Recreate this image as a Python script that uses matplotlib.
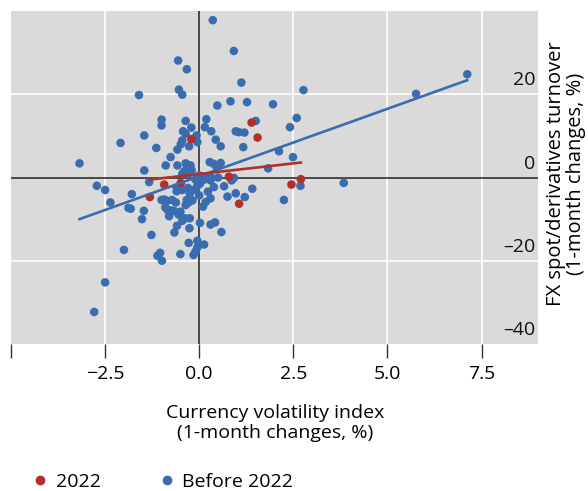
import numpy as np
import matplotlib
matplotlib.use("Agg")
import matplotlib.pyplot as plt
from matplotlib.lines import Line2D

plt.rcParams['font.family'] = ['Open Sans', 'DejaVu Sans']

# 1-month changes (%): currency volatility index (x) vs FX turnover (y)
before_x = [0.36, 0.92, -0.56, -0.33, 1.12, -0.54, -0.45, -1.6, 0.83, 1.27, 0.48, 1.96,
            2.77, 5.76, 7.12, 2.59, 1.5, 2.41, -1.0, -1.0, -0.36, -0.21, 0.19, 0.15,
            -0.43, -0.36, 0.32, 0.97, 1.05, 1.2, -1.46, -0.07, -2.09, -0.45, -0.49, -0.05,
            -0.27, 0.44, 0.57, 1.17, -1.14, -0.58, 2.12, -3.18, -0.76, 2.49, -0.89, -0.58,
            -0.36, -0.23, -0.31, 0.28, 0.38, 0.57, 0.46, 1.83, -1.46, -0.2, -0.4,
            -0.45, -0.3, 0.0, 0.15, 0.3, 0.5, 0.86, 0.92, -0.1, 0.02, 0.39, 0.66, 0.86,
            1.41, 0.23, 0.75, 0.97, 1.21, 2.25, 0.0, 0.3, 0.17, 0.1, 2.69, 3.84, 0.11, 0.3,
            -1.33, -2.72, -2.5, -2.36, -1.79, -1.88, -1.82, -1.47, -1.52, -1.27, -2.0,
            -0.93, -0.84, -0.6, -0.6, -0.45, -0.3, -0.2, -0.25, -1.0, -0.85, -0.72, -0.9,
            -0.75, -0.5, -0.55, -0.38, -0.45, -0.25, -0.8, -0.59, -0.66, -0.26, -0.33,
            -0.28, -0.36, -0.1, -0.05, -0.62, -0.67, -0.54, -0.18,
            0.02, 0.3, 0.42, 0.59, -0.28, -0.05, 0.13, -0.05, -0.1, -0.15, -1.04, -1.11,
            -0.99, -0.5, -2.5, -2.79]
before_y = [37.8, 30.4, 28.1, 26.0, 22.8, 21.1, 19.9, 19.8, 18.3, 18.1, 17.3, 17.6,
            21.0, 20.1, 24.8, 14.3, 13.6, 12.1, 13.9, 12.5, 13.6, 12.0, 14.0, 12.1,
            11.1, 10.5, 11.1, 11.1, 10.9, 10.8, 10.1, 10.1, 8.3, 8.9, 8.0, 8.5,
            7.5, 9.1, 7.5, 7.3, 7.1, 6.7, 6.3, 3.4, 4.9, 4.9, 2.9, 2.9,
            3.4, 2.9, 2.1, 3.7, 3.3, 3.5, 2.5, 2.2, 1.7, 1.7, 1.5,
            0.9, 0.8, 0.5, 0.3, 0.1, 0.0, -0.2, -0.1, -0.5, -1.5, -2.3, -2.1, -0.7,
            -2.7, -3.4, -4.6, -3.8, -4.7, -5.4, -4.3, -5.0, -5.9, -7.0, -2.0, -1.3, -0.6, -0.7,
            -1.1, -2.0, -3.0, -6.0, -4.0, -7.3, -7.5, -8.0, -10.0, -13.8, -17.4,
            -5.3, -7.8, -2.4, -3.3, -3.0, -2.5, -3.0, -3.8, -5.4, -5.6, -5.4, -7.2,
            -7.9, -8.2, -8.9, -9.8, -10.4, -9.8, -9.3, -11.6, -13.2, -12.2, -5.4,
            -6.0, -6.6, -3.0, -2.0, -6.0, -8.0, -8.8, -5.5,
            -10.9, -11.3, -10.8, -13.1, -15.7, -15.2, -16.1, -16.8, -17.8, -18.6, -18.1, -18.8,
            -20.0, -18.4, -25.2, -32.3]

y2022_x = [-0.21, 1.39, 1.55, 0.79, -0.49, -0.93, -1.31, 1.06, 2.45, 2.7]
y2022_y = [9.2, 13.2, 9.6, 0.2, -1.3, -1.7, -4.7, -6.3, -1.7, -0.4]

# fitted trend lines: intercept, slope
before_fit = (0.3, 3.24)
fit_2022 = (0.84, 1.02)

x_ticks = [-5.0, -2.5, 0.0, 2.5, 5.0, 7.5]
x_labels = ['', '−2.5', '0.0', '2.5', '5.0', '7.5']
y_ticks = [-40, -20, 0, 20]
y_labels = ['–40', '–20', '0', '20']

blue = '#3a6cb0'
red = '#b22f2c'
fs = 14

fig = plt.figure(figsize=(5.88, 4.91), dpi=100)
ax = fig.add_axes([11 / 588, 1 - 344 / 491, 527 / 588, 333 / 491])
ax.set_facecolor('#dadada')
ax.set_xlim(-5, 9)
ax.set_ylim(-40, 40)

for gx in [-2.5, 2.5, 5.0, 7.5]:
    ax.axvline(gx, color='white', lw=1.2, zorder=1)
for gy in [-20, 20]:
    ax.axhline(gy, color='white', lw=1.2, zorder=1)
ax.axvline(0, color='#222222', lw=1.1, zorder=2)
ax.axhline(0, color='#222222', lw=1.1, zorder=2)

ax.scatter(before_x, before_y, s=38, color=blue, edgecolors='none', zorder=3)
ax.scatter(y2022_x, y2022_y, s=38, color=red, edgecolors='none', zorder=4)

for xs, fit, c in [(before_x, before_fit, blue), (y2022_x, fit_2022, red)]:
    lx = np.array([min(xs), max(xs)])
    ax.plot(lx, fit[0] + fit[1] * lx, color=c, lw=1.9, zorder=5)

for s in ax.spines.values():
    s.set_visible(False)

ax.set_xticks(x_ticks)
ax.set_xticklabels(x_labels, fontsize=fs)
ax.tick_params(axis='x', length=10, width=1, color='#333333', pad=5)
ax.set_yticks([])
for yt, lab in zip(y_ticks, y_labels):
    ax.annotate(lab, xy=(1, yt), xycoords=('axes fraction', 'data'),
                xytext=(-2, 10), textcoords='offset points',
                ha='right', va='center', fontsize=fs, color='#111111')

ax.text(1.053, 0.51, 'FX spot/derivatives turnover\n(1-month changes, %)',
        transform=ax.transAxes, rotation=90, ha='center', va='center',
        fontsize=14.5, multialignment='center', linespacing=1.0)
fig.text(275 / 588, 1 - 423 / 491, 'Currency volatility index\n(1-month changes, %)',
         ha='center', va='center', fontsize=fs, multialignment='center')

handles = [Line2D([], [], marker='o', ls='none', color=red, markersize=6, label='2022'),
           Line2D([], [], marker='o', ls='none', color=blue, markersize=6, label='Before 2022')]
fig.legend(handles=handles, loc='center left', bbox_to_anchor=(0.022, 1 - 482 / 491),
           ncol=2, frameon=False, fontsize=fs, handletextpad=0.3, columnspacing=2.9,
           handlelength=1.0)

fig.savefig('out.png', dpi=100)
